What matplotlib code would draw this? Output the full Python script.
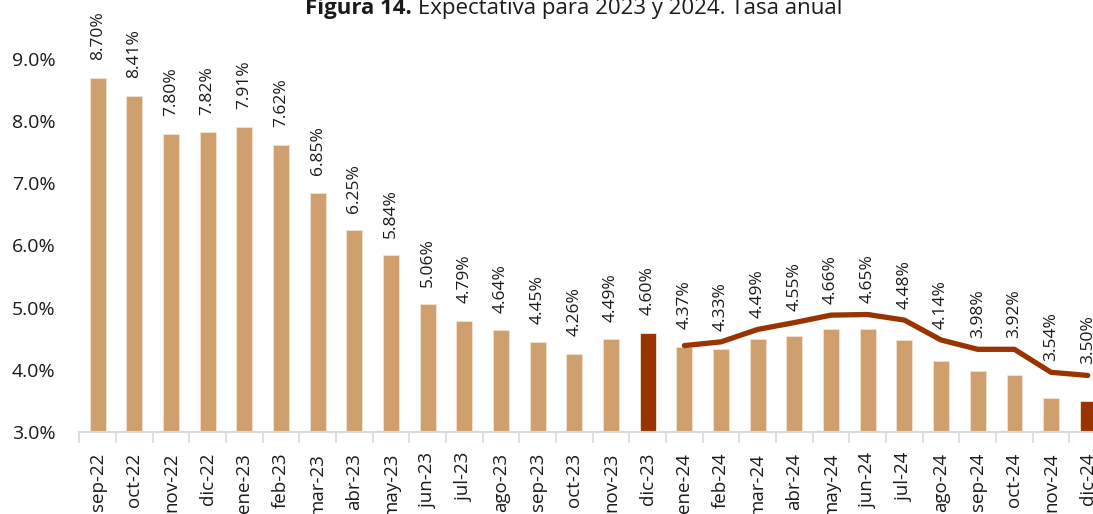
import numpy as np
import matplotlib

matplotlib.use('Agg')
import matplotlib.pyplot as plt

plt.rcParams['font.family'] = ['Open Sans', 'DejaVu Sans']

# Data
months = ['sep-22', 'oct-22', 'nov-22', 'dic-22', 'ene-23', 'feb-23', 'mar-23',
          'abr-23', 'may-23', 'jun-23', 'jul-23', 'ago-23', 'sep-23', 'oct-23',
          'nov-23', 'dic-23', 'ene-24', 'feb-24', 'mar-24', 'abr-24', 'may-24',
          'jun-24', 'jul-24', 'ago-24', 'sep-24', 'oct-24', 'nov-24', 'dic-24']
bar_values = [8.70, 8.41, 7.80, 7.82, 7.91, 7.62, 6.85, 6.25, 5.84, 5.06, 4.79,
              4.64, 4.45, 4.26, 4.49, 4.60, 4.37, 4.33, 4.49, 4.55, 4.66, 4.65,
              4.48, 4.14, 3.98, 3.92, 3.54, 3.50]
# expectativa 2024 (line), starts at ene-24
line_months = months[16:]
line_values = [4.39, 4.45, 4.65, 4.76, 4.88, 4.89, 4.80, 4.48, 4.33, 4.33, 3.96, 3.91]
highlight = ['dic-23', 'dic-24']

tan = '#D09F6E'
dark = '#993300'
txt = '#1a1a1a'

W, H = 1093, 514
fig = plt.figure(figsize=(W / 100, H / 100), dpi=100)
cat_w = 36.67
left_px, bottom_px = 79.3, 432
ax = fig.add_axes([left_px / W, (H - bottom_px) / H,
                   len(months) * cat_w / W, 7 * 62.17 / H])

x = np.arange(len(months))
colors = [dark if m in highlight else tan for m in months]
ax.bar(x, [v - 3 for v in bar_values], bottom=3, width=0.43, color=colors,
       edgecolor='#F3E3D3', linewidth=0.6, zorder=2)

lx = [months.index(m) for m in line_months]
ax.plot(lx, line_values, color=dark, lw=3.8, solid_capstyle='round',
        solid_joinstyle='round', zorder=3)

# data labels above bar (or line, whichever is higher)
line_map = dict(zip(line_months, line_values))
for i, (m, v) in enumerate(zip(months, bar_values)):
    pos = v + 0.28
    if m in line_map:
        pos = max(pos, line_map[m] + 0.18)
    ax.text(i, pos, f'{v:.2f}%', rotation=90, ha='center', va='bottom',
            fontsize=12.5, color=txt, clip_on=False)

ax.set_xlim(-0.5, len(months) - 0.5)
ax.set_ylim(3, 10)
yt = np.arange(3, 9.1, 1)
ax.set_yticks(yt)
ax.set_yticklabels([f'{t:.1f}%' for t in yt], fontsize=14, color=txt)
ax.tick_params(axis='y', length=0, pad=17)

ax.set_xticks(x)
ax.set_xticklabels(months, rotation=90, fontsize=13.5, color=txt)
ax.tick_params(axis='x', length=0, pad=15)
ax.set_xticks(np.arange(-0.5, len(months)), minor=True)
ax.tick_params(axis='x', which='minor', length=8, color='#D9D9D9', width=1.2)

for s in ['top', 'right', 'left']:
    ax.spines[s].set_visible(False)
ax.spines['bottom'].set_color('#D9D9D9')
ax.spines['bottom'].set_linewidth(1.5)

# title, bold part then regular part
fig.canvas.draw()
r = fig.canvas.get_renderer()
t1 = fig.text(305 / W, 1 - 14 / H, 'Figura 14.', fontsize=16, fontweight='bold',
              ha='left', va='baseline', color=txt)
bb = t1.get_window_extent(renderer=r)
fig.text((bb.x1 + 6) / W, 1 - 14 / H, 'Expectativa para 2023 y 2024. Tasa anual',
         fontsize=16, ha='left', va='baseline', color=txt)

fig.savefig('out.png', dpi=100)
